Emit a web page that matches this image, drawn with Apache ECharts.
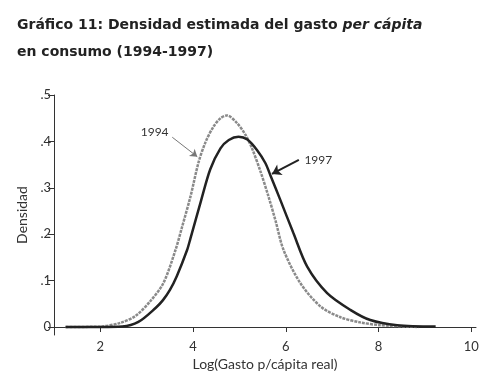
<!DOCTYPE html>
<html>
<head>
<meta charset="utf-8">
<script src="https://cdn.jsdelivr.net/npm/echarts@6/dist/echarts.min.js"></script>
<style>
  html, body { margin: 0; padding: 0; background: #fff; }
  #chart { width: 485px; height: 387px; }
</style>
</head>
<body>
<div id="chart"></div>
<script>
// valores: [log gasto, densidad]
const density1994 = [
    [1.25, 0.000], [2.00, 0.001], [2.43, 0.009], [2.76, 0.024], [3.08, 0.056],
    [3.36, 0.095], [3.62, 0.166], [3.76, 0.215], [3.94, 0.280], [4.12, 0.356],
    [4.27, 0.399], [4.44, 0.432], [4.59, 0.450], [4.73, 0.456], [4.95, 0.439],
    [5.13, 0.414], [5.27, 0.385], [5.45, 0.336], [5.62, 0.283], [5.78, 0.228],
    [5.95, 0.166], [6.31, 0.095], [6.75, 0.044], [7.18, 0.021], [7.60, 0.010],
    [8.04, 0.004], [8.86, 0.000]
];
const density1997 = [
    [1.25, 0.000], [2.00, 0.000], [2.47, 0.001], [2.82, 0.011], [3.19, 0.041],
    [3.35, 0.058], [3.50, 0.080], [3.65, 0.110], [3.87, 0.166], [3.94, 0.190],
    [4.17, 0.272], [4.37, 0.340], [4.59, 0.385], [4.77, 0.403], [4.98, 0.410],
    [5.17, 0.404], [5.38, 0.381], [5.56, 0.353], [5.67, 0.326], [5.88, 0.274],
    [6.16, 0.203], [6.46, 0.130], [6.89, 0.073], [7.39, 0.037], [7.82, 0.015],
    [8.40, 0.004], [9.23, 0.001]
];
const xTicks = [2, 4, 6, 8, 10];
const yTicks = [0, 0.1, 0.2, 0.3, 0.4, 0.5];
const yTickLabels = ['0', '.1', '.2', '.3', '.4', '.5'];

// anotaciones (flechas y etiquetas), en coordenadas de datos
const arrow1994 = [[3.55, 0.409], [4.09, 0.367]];
const arrow1997 = [[6.28, 0.360], [5.70, 0.330]];
const label1994 = [3.17, 0.421];
const label1997 = [6.70, 0.360];

const FONT = 'Lato, "DejaVu Sans", sans-serif';
const TITLE_FONT = '"DejaVu Sans", sans-serif';

const myChart = echarts.init(document.getElementById('chart'));

const option = {
    backgroundColor: '#fff',
    animation: false,
    title: {
        left: 12,
        top: 7,
        text: '{b|Gráfico 11: Densidad estimada del gasto }{i|per cápita}\n{b|en consumo (1994-1997)}',
        textStyle: {
            rich: {
                b: { fontFamily: TITLE_FONT, fontSize: 14, fontWeight: 'bold', color: '#222', lineHeight: 27 },
                i: { fontFamily: TITLE_FONT, fontSize: 14, fontWeight: 'bold', fontStyle: 'italic', color: '#222', lineHeight: 27 }
            }
        }
    },
    grid: {
        left: 54,
        top: 95,
        width: 422,
        height: 240,
        containLabel: false
    },
    xAxis: {
        type: 'value',
        min: 1,
        max: 10.1,
        name: 'Log(Gasto p/cápita real)',
        nameLocation: 'middle',
        nameGap: 21,
        nameTextStyle: { fontFamily: FONT, fontSize: 14, color: '#333' },
        axisLine: { show: true, lineStyle: { color: '#333', width: 1 } },
        axisTick: { show: true, customValues: xTicks, length: 5, lineStyle: { color: '#333' } },
        axisLabel: { customValues: xTicks, margin: 5, fontFamily: FONT, fontSize: 13, color: '#333' },
        splitLine: { show: false }
    },
    yAxis: {
        type: 'value',
        min: -0.0172,
        max: 0.5,
        name: 'Densidad',
        nameLocation: 'middle',
        nameGap: 25,
        nameTextStyle: { fontFamily: FONT, fontSize: 14, color: '#333' },
        axisLine: { show: true, lineStyle: { color: '#333', width: 1 } },
        axisTick: { show: true, customValues: yTicks, length: 6, lineStyle: { color: '#333' } },
        axisLabel: {
            customValues: yTicks,
            margin: 3,
            fontFamily: FONT,
            fontSize: 13,
            color: '#333',
            formatter: (v) => yTickLabels[yTicks.findIndex((t) => Math.abs(t - v) < 1e-6)]
        },
        splitLine: { show: false }
    },
    series: [
        {
            name: '1994',
            type: 'line',
            data: density1994,
            smooth: 0.3,
            showSymbol: false,
            lineStyle: { color: '#8a8a8a', width: 2.5, type: [3, 1] },
            markLine: {
                silent: true,
                symbol: ['none', 'arrow'],
                symbolSize: 7,
                label: { show: false },
                lineStyle: { color: '#777', width: 1, type: 'solid' },
                data: [[{ coord: arrow1994[0] }, { coord: arrow1994[1] }]]
            }
        },
        {
            name: '1997',
            type: 'line',
            data: density1997,
            smooth: 0.3,
            showSymbol: false,
            lineStyle: { color: '#222', width: 2.5 },
            markLine: {
                silent: true,
                symbol: ['none', 'arrow'],
                symbolSize: 9,
                label: { show: false },
                lineStyle: { color: '#222', width: 2, type: 'solid' },
                data: [[{ coord: arrow1997[0] }, { coord: arrow1997[1] }]]
            }
        }
    ]
};

myChart.setOption(option);

// etiquetas de las flechas
const p94 = myChart.convertToPixel({ gridIndex: 0 }, label1994);
const p97 = myChart.convertToPixel({ gridIndex: 0 }, label1997);
myChart.setOption({
    graphic: [
        { type: 'text', x: p94[0], y: p94[1], style: { text: '1994', fontFamily: FONT, fontSize: 12, fill: '#333', align: 'center', verticalAlign: 'middle' } },
        { type: 'text', x: p97[0], y: p97[1], style: { text: '1997', fontFamily: FONT, fontSize: 12, fill: '#333', align: 'center', verticalAlign: 'middle' } }
    ]
});
</script>
</body>
</html>
